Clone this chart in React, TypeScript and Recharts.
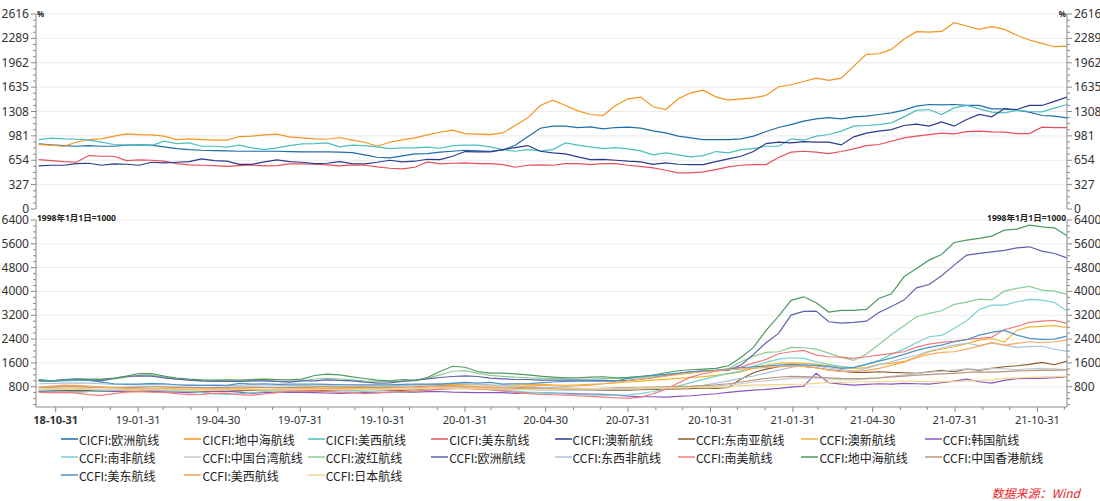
import React from "react";
import { LineChart, Line, XAxis, YAxis, ReferenceLine } from "recharts";

const DAY = 86400000;
const START = Date.UTC(2018, 9, 12);
const dates: number[] = [];
for (let i = 0; i < 83; i++) dates.push(START + i * 14 * DAY);
const X_DOMAIN = [Date.UTC(2018, 9, 9), Date.UTC(2021, 11, 3)];

const majorDates = [
  Date.UTC(2018, 9, 31), Date.UTC(2019, 0, 31), Date.UTC(2019, 3, 30), Date.UTC(2019, 6, 31),
  Date.UTC(2019, 9, 31), Date.UTC(2020, 0, 31), Date.UTC(2020, 3, 30), Date.UTC(2020, 6, 31),
  Date.UTC(2020, 9, 31), Date.UTC(2021, 0, 31), Date.UTC(2021, 3, 30), Date.UTC(2021, 6, 31),
  Date.UTC(2021, 9, 31),
];
const minorDates: number[] = [];
for (let y = 2018; y <= 2021; y++) {
  for (let m = 0; m < 12; m++) {
    const end = Date.UTC(y, m + 1, 0);
    if (end > X_DOMAIN[0] && end < X_DOMAIN[1] && !majorDates.includes(end)) minorDates.push(end);
  }
}
const xTicks = [...majorDates, ...minorDates].sort((a, b) => a - b);

// ---- top chart (CICFI, %) ----
const cicfiEurope = [874, 860, 851, 842, 851, 842, 842, 856, 860, 856, 833, 811, 797, 788, 784, 780, 775, 775, 775, 775, 771, 766, 766, 766, 762, 757, 726, 694, 685, 712, 739, 744, 762, 775, 788, 780, 775, 788, 856, 968, 1084, 1111, 1111, 1093, 1102, 1075, 1093, 1098, 1084, 1048, 1021, 977, 954, 932, 932, 932, 941, 977, 1039, 1093, 1133, 1178, 1210, 1227, 1210, 1236, 1245, 1268, 1290, 1326, 1380, 1402, 1398, 1402, 1389, 1389, 1344, 1344, 1326, 1299, 1254, 1245, 1223];
const cicfiMed = [865, 856, 842, 896, 932, 941, 977, 1008, 999, 995, 977, 932, 941, 932, 923, 923, 972, 977, 995, 1004, 968, 954, 941, 936, 959, 923, 896, 842, 896, 927, 954, 995, 1030, 1057, 1012, 1004, 999, 1021, 1120, 1223, 1389, 1460, 1389, 1317, 1268, 1254, 1389, 1478, 1501, 1371, 1335, 1478, 1559, 1595, 1505, 1460, 1478, 1492, 1523, 1640, 1667, 1711, 1756, 1725, 1756, 1917, 2074, 2083, 2141, 2276, 2379, 2374, 2383, 2500, 2455, 2410, 2446, 2410, 2330, 2267, 2222, 2177, 2186];
const cicfiUSWest = [930, 950, 941, 936, 923, 896, 865, 856, 860, 851, 909, 878, 887, 842, 842, 829, 856, 820, 797, 820, 851, 874, 878, 887, 833, 856, 851, 833, 811, 820, 820, 829, 815, 851, 856, 856, 833, 797, 775, 797, 780, 797, 887, 856, 833, 811, 824, 806, 780, 726, 752, 726, 699, 717, 771, 752, 797, 811, 842, 842, 941, 923, 977, 999, 1044, 1111, 1120, 1133, 1156, 1236, 1322, 1335, 1268, 1357, 1389, 1344, 1299, 1290, 1322, 1308, 1304, 1353, 1402];
const cicfiUSEast = [663, 650, 636, 627, 717, 708, 708, 650, 659, 654, 641, 609, 591, 587, 582, 573, 582, 591, 578, 582, 605, 605, 600, 591, 578, 591, 587, 564, 547, 538, 560, 632, 605, 614, 618, 609, 609, 596, 560, 587, 591, 587, 609, 609, 596, 609, 609, 587, 573, 551, 520, 484, 484, 497, 529, 564, 587, 596, 596, 690, 762, 775, 762, 743, 771, 806, 851, 865, 909, 954, 977, 999, 1017, 1008, 1039, 1044, 1035, 1030, 1012, 1012, 1098, 1093, 1093];
const cicfiANZ = [578, 587, 587, 609, 614, 587, 605, 600, 587, 627, 618, 627, 636, 672, 650, 641, 600, 600, 632, 659, 636, 627, 609, 614, 636, 609, 605, 627, 654, 632, 641, 667, 663, 708, 771, 766, 766, 797, 824, 851, 775, 752, 739, 699, 663, 667, 654, 641, 632, 600, 618, 600, 596, 596, 636, 672, 708, 771, 878, 896, 887, 905, 896, 896, 860, 968, 1017, 1044, 1066, 1120, 1138, 1111, 1169, 1111, 1200, 1268, 1236, 1344, 1335, 1389, 1389, 1443, 1501];

// ---- bottom chart (CCFI, 1998-01-01=1000) ----
const ccfiSEAsia = [660, 670, 680, 680, 670, 660, 650, 660, 670, 680, 680, 670, 660, 650, 650, 660, 670, 680, 680, 670, 660, 650, 660, 670, 680, 690, 700, 700, 690, 680, 700, 720, 740, 760, 750, 730, 720, 720, 740, 750, 760, 740, 720, 700, 690, 690, 690, 690, 700, 710, 720, 730, 740, 760, 744, 778, 1058, 1270, 1393, 1472, 1505, 1483, 1438, 1371, 1326, 1282, 1282, 1304, 1282, 1270, 1248, 1304, 1348, 1304, 1393, 1360, 1416, 1472, 1505, 1550, 1620, 1540, 1660];
const ccfiANZ = [760, 780, 800, 810, 800, 790, 780, 770, 760, 750, 760, 770, 770, 760, 760, 750, 750, 760, 770, 780, 780, 790, 800, 810, 800, 800, 810, 820, 830, 840, 860, 870, 880, 880, 870, 860, 850, 850, 860, 870, 880, 860, 850, 860, 880, 900, 930, 960, 990, 1020, 1050, 1080, 1110, 1140, 1180, 1230, 1300, 1420, 1530, 1590, 1600, 1590, 1560, 1500, 1440, 1420, 1440, 1550, 1584, 1650, 1800, 1975, 2060, 2143, 2250, 2366, 2420, 2300, 2700, 2813, 2830, 2850, 2790];
const ccfiKorea = [644, 644, 644, 630, 644, 650, 644, 660, 650, 644, 630, 620, 600, 611, 640, 650, 620, 580, 600, 610, 620, 611, 600, 590, 578, 590, 600, 611, 611, 620, 622, 633, 640, 620, 611, 600, 600, 600, 580, 600, 600, 590, 576, 560, 550, 543, 520, 487, 464, 464, 453, 476, 498, 532, 565, 610, 655, 688, 711, 744, 789, 822, 1250, 934, 890, 856, 878, 901, 890, 912, 901, 890, 934, 990, 1057, 968, 923, 1013, 1069, 1080, 1080, 1102, 1136];
const ccfiSAfrica = [680, 650, 640, 620, 640, 660, 680, 700, 700, 690, 680, 660, 640, 600, 560, 540, 560, 600, 640, 660, 680, 700, 720, 700, 680, 660, 640, 620, 600, 620, 650, 700, 760, 780, 760, 720, 700, 680, 650, 620, 600, 580, 560, 540, 530, 520, 520, 530, 570, 640, 720, 820, 940, 1050, 1150, 1248, 1326, 1483, 1617, 1729, 1774, 1751, 1639, 1550, 1483, 1438, 1550, 1684, 1886, 2065, 2277, 2479, 2523, 2758, 3016, 3396, 3542, 3542, 3654, 3732, 3710, 3631, 3340];
const ccfiTaiwan = [720, 730, 740, 740, 730, 720, 710, 720, 730, 730, 720, 710, 700, 700, 710, 720, 720, 710, 700, 710, 720, 720, 730, 730, 720, 710, 700, 700, 710, 720, 730, 740, 760, 770, 760, 740, 730, 720, 710, 700, 690, 690, 680, 680, 690, 700, 710, 720, 730, 740, 750, 760, 770, 790, 820, 860, 900, 960, 1000, 1040, 1080, 1100, 1090, 1060, 1040, 1030, 1060, 1100, 1150, 1200, 1240, 1280, 1320, 1360, 1400, 1380, 1420, 1400, 1380, 1400, 1420, 1400, 1380];
const ccfiRedSea = [980, 990, 1000, 1010, 1020, 1040, 1060, 1120, 1180, 1200, 1120, 1060, 1030, 1000, 990, 980, 990, 1000, 1010, 990, 980, 1000, 1060, 1080, 1060, 1030, 1000, 980, 970, 990, 1000, 1080, 1200, 1320, 1340, 1260, 1180, 1150, 1120, 1100, 1090, 1080, 1070, 1060, 1060, 1070, 1080, 1090, 1110, 1140, 1190, 1240, 1290, 1320, 1350, 1400, 1639, 1830, 1953, 1975, 2120, 2109, 2065, 1930, 1785, 1684, 1897, 2221, 2557, 2848, 3150, 3262, 3351, 3564, 3642, 3743, 3720, 4011, 4101, 4168, 4045, 4011, 3900];
const ccfiEurope = [1022, 1000, 1033, 1056, 1033, 1000, 1078, 1144, 1167, 1156, 1100, 1056, 1022, 1000, 978, 978, 978, 1000, 1000, 978, 955, 1000, 1000, 1033, 1011, 1000, 955, 922, 933, 978, 1022, 1067, 1111, 1144, 1167, 1144, 1089, 1067, 1044, 1044, 1025, 1025, 1025, 1020, 1015, 1013, 1002, 1013, 1058, 1102, 1170, 1237, 1304, 1326, 1337, 1349, 1527, 1886, 2277, 2590, 3206, 3329, 3340, 2982, 2937, 2960, 3004, 3295, 3497, 3709, 4123, 4235, 4526, 4884, 5220, 5276, 5332, 5377, 5466, 5500, 5354, 5276, 5130];
const ccfiAfrica = [900, 910, 920, 930, 920, 900, 880, 870, 860, 870, 880, 870, 860, 850, 840, 840, 850, 860, 860, 850, 840, 840, 850, 860, 860, 850, 840, 830, 830, 840, 850, 870, 900, 920, 900, 880, 860, 840, 820, 800, 780, 770, 760, 750, 740, 740, 740, 750, 760, 770, 780, 790, 800, 850, 920, 1000, 1080, 1160, 1260, 1360, 1450, 1520, 1500, 1430, 1380, 1330, 1420, 1540, 1640, 1760, 1850, 2000, 2100, 2200, 2260, 2180, 2260, 2200, 2120, 2150, 2160, 2060, 1990];
const ccfiSAmerica = [611, 600, 611, 589, 533, 511, 567, 622, 633, 622, 611, 567, 533, 544, 578, 589, 533, 511, 556, 600, 644, 644, 644, 633, 622, 611, 567, 589, 622, 633, 644, 678, 711, 733, 744, 722, 700, 656, 622, 578, 543, 532, 520, 498, 476, 453, 431, 408, 453, 565, 711, 923, 1124, 1237, 1326, 1393, 1460, 1594, 1718, 1908, 1975, 2020, 1863, 1807, 1796, 1751, 1807, 1863, 1919, 1975, 2132, 2232, 2288, 2322, 2389, 2423, 2467, 2714, 2825, 2960, 3004, 3026, 2926];
const ccfiMed = [1044, 1000, 1044, 1067, 1056, 1056, 1089, 1156, 1244, 1244, 1156, 1089, 1056, 1033, 1022, 1033, 1022, 1044, 1056, 1044, 1033, 1056, 1178, 1222, 1200, 1133, 1078, 1022, 1000, 1044, 1011, 1111, 1311, 1489, 1456, 1311, 1256, 1256, 1233, 1200, 1156, 1125, 1102, 1102, 1125, 1136, 1102, 1113, 1147, 1192, 1270, 1337, 1371, 1393, 1416, 1505, 1785, 2120, 2691, 3172, 3700, 3820, 3620, 3307, 3363, 3363, 3396, 3766, 3922, 4493, 4773, 5052, 5242, 5645, 5724, 5780, 5858, 6060, 6094, 6228, 6172, 6138, 5869];
const ccfiHK = [780, 790, 800, 800, 790, 780, 770, 780, 790, 800, 800, 790, 780, 770, 770, 780, 790, 790, 780, 770, 770, 780, 790, 800, 790, 780, 770, 770, 780, 790, 800, 820, 840, 840, 820, 800, 790, 780, 770, 760, 750, 740, 730, 730, 740, 750, 760, 770, 780, 790, 800, 810, 820, 840, 860, 900, 960, 1020, 1080, 1120, 1150, 1140, 1120, 1100, 1080, 1070, 1080, 1100, 1130, 1160, 1190, 1210, 1230, 1250, 1280, 1300, 1290, 1310, 1330, 1340, 1360, 1350, 1370];
const ccfiUSEast = [1000, 978, 1011, 1033, 1011, 955, 900, 889, 889, 911, 900, 867, 844, 844, 855, 844, 911, 889, 900, 878, 889, 889, 889, 878, 867, 867, 867, 867, 867, 878, 889, 889, 889, 911, 944, 922, 944, 889, 900, 900, 930, 960, 980, 990, 990, 990, 990, 1080, 1136, 1181, 1214, 1259, 1304, 1337, 1360, 1393, 1438, 1472, 1494, 1527, 1550, 1539, 1516, 1483, 1416, 1449, 1550, 1662, 1762, 1886, 2020, 2121, 2199, 2311, 2378, 2535, 2624, 2691, 2535, 2423, 2389, 2400, 2501];
const ccfiUSWest = [789, 822, 855, 844, 822, 789, 767, 744, 733, 711, 733, 733, 722, 733, 733, 722, 722, 711, 700, 711, 722, 730, 740, 750, 740, 730, 730, 740, 750, 760, 770, 790, 810, 820, 800, 780, 770, 760, 780, 820, 856, 834, 811, 834, 856, 901, 945, 1001, 1057, 1102, 1158, 1214, 1259, 1304, 1337, 1371, 1393, 1416, 1449, 1472, 1505, 1483, 1438, 1360, 1315, 1304, 1348, 1416, 1516, 1628, 1774, 1886, 1953, 1975, 2065, 2165, 2288, 2199, 2255, 2311, 2277, 2311, 2367];
const ccfiJapan = [700, 710, 720, 720, 710, 700, 700, 690, 690, 700, 700, 690, 680, 680, 690, 690, 700, 700, 690, 690, 700, 710, 710, 700, 700, 700, 710, 720, 720, 730, 740, 740, 750, 750, 740, 740, 730, 730, 720, 720, 720, 720, 730, 730, 740, 740, 750, 750, 760, 760, 770, 770, 780, 780, 790, 790, 840, 856, 862, 870, 878, 890, 915, 945, 950, 960, 968, 975, 985, 990, 985, 968, 975, 985, 990, 1010, 1040, 1080, 1095, 1110, 1136, 1140, 1150];

type S = { key: string; name: string; color: string; values: number[] };
const topSeries: S[] = [
  { key: "a1", name: "CICFI:欧洲航线", color: "#1f6ea6", values: cicfiEurope },
  { key: "a2", name: "CICFI:地中海航线", color: "#f7931e", values: cicfiMed },
  { key: "a3", name: "CICFI:美西航线", color: "#4cbfbf", values: cicfiUSWest },
  { key: "a4", name: "CICFI:美东航线", color: "#e8505b", values: cicfiUSEast },
  { key: "a5", name: "CICFI:澳新航线", color: "#2d3a8c", values: cicfiANZ },
];
const bottomSeries: S[] = [
  { key: "b1", name: "CCFI:东南亚航线", color: "#8b5a2b", values: ccfiSEAsia },
  { key: "b2", name: "CCFI:澳新航线", color: "#efb52c", values: ccfiANZ },
  { key: "b3", name: "CCFI:韩国航线", color: "#8957c0", values: ccfiKorea },
  { key: "b4", name: "CCFI:南非航线", color: "#78d0d0", values: ccfiSAfrica },
  { key: "b5", name: "CCFI:中国台湾航线", color: "#c3cad4", values: ccfiTaiwan },
  { key: "b6", name: "CCFI:波红航线", color: "#8ccb98", values: ccfiRedSea },
  { key: "b7", name: "CCFI:欧洲航线", color: "#5c64aa", values: ccfiEurope },
  { key: "b8", name: "CCFI:东西非航线", color: "#abc2da", values: ccfiAfrica },
  { key: "b9", name: "CCFI:南美航线", color: "#f27c7c", values: ccfiSAmerica },
  { key: "b10", name: "CCFI:地中海航线", color: "#4f9a60", values: ccfiMed },
  { key: "b11", name: "CCFI:中国香港航线", color: "#b8977e", values: ccfiHK },
  { key: "b12", name: "CCFI:美东航线", color: "#4d93c4", values: ccfiUSEast },
  { key: "b13", name: "CCFI:美西航线", color: "#f9a85c", values: ccfiUSWest },
  { key: "b14", name: "CCFI:日本航线", color: "#f2d68a", values: ccfiJapan },
];

const buildRows = (series: S[]) =>
  dates.map((t, i) => {
    const row: Record<string, number> = { t };
    series.forEach((s) => (row[s.key] = s.values[i]));
    return row;
  });
const topRows = buildRows(topSeries);
const bottomRows = buildRows(bottomSeries);

const topMajor = [0, 327, 654, 981, 1308, 1635, 1962, 2289, 2616];
const topTicks: number[] = [];
for (let k = 0; k <= 32; k++) topTicks.push(k * 81.75);
const botMajor = [800, 1600, 2400, 3200, 4000, 4800, 5600, 6400];
const botTicks: number[] = [];
for (let v = 200; v <= 6400; v += 200) botTicks.push(v);

const FONT = "'Noto Sans', 'Noto Sans CJK SC', sans-serif";
const AXIS = "#8a8a8a";

const makeYTick = (side: "left" | "right", step: number) => (props: any) => {
  const { x, y, payload } = props;
  const v = payload.value;
  const major = Math.abs(v / step - Math.round(v / step)) < 1e-6;
  const d = side === "left" ? -1 : 1;
  return (
    <g>
      <line x1={x} y1={y} x2={x + d * (major ? 5 : 3)} y2={y} stroke={AXIS} />
      {major && (
        <text x={x + d * 7} y={y} dy={4} textAnchor={side === "left" ? "end" : "start"} fontSize={12} fill="#333" fontFamily={FONT}>
          {Math.round(v)}
        </text>
      )}
    </g>
  );
};

const fmtDate = (v: number) => {
  const d = new Date(v);
  const p = (n: number) => String(n).padStart(2, "0");
  return `${p(d.getUTCFullYear() % 100)}-${p(d.getUTCMonth() + 1)}-${p(d.getUTCDate())}`;
};

const XTick = (props: any) => {
  const { x, y, payload } = props;
  const v = payload.value;
  const major = majorDates.includes(v);
  const first = v === majorDates[0];
  return (
    <g>
      <line x1={x} y1={y} x2={x} y2={y + (major ? 5 : 3)} stroke={AXIS} />
      {major && (
        <text x={x} y={y + 17} textAnchor="middle" fontSize={11} fontWeight={first ? 700 : 400} fill="#333" fontFamily={FONT}>
          {fmtDate(v)}
        </text>
      )}
    </g>
  );
};

const legendItems = [...topSeries, ...bottomSeries];

export default function App() {
  return (
    <div style={{ position: "absolute", left: 0, top: 0, width: 1100, height: 501, background: "#fff", fontFamily: FONT, overflow: "hidden" }}>
      <div style={{ position: "absolute", left: 0, top: 0 }}>
        <LineChart width={1100} height={222} data={topRows} margin={{ top: 14, right: 0, bottom: 13, left: 0 }}>
          <XAxis dataKey="t" type="number" domain={X_DOMAIN} allowDataOverflow hide />
          <YAxis yAxisId="l" orientation="left" width={36} domain={[0, 2616]} ticks={topTicks} interval={0} allowDataOverflow
            axisLine={{ stroke: AXIS }} tickLine={false} tickSize={0} tickMargin={0} tick={makeYTick("left", 327)} />
          <YAxis yAxisId="r" orientation="right" width={33} domain={[0, 2616]} ticks={topTicks} interval={0} allowDataOverflow
            axisLine={{ stroke: AXIS }} tickLine={false} tickSize={0} tickMargin={0} tick={makeYTick("right", 327)} />
          {topMajor.slice(1).map((v) => (
            <ReferenceLine key={v} yAxisId="l" y={v} stroke="#ececec" strokeWidth={1} />
          ))}
          {topSeries.map((s) => (
            <Line key={s.key} yAxisId="l" dataKey={s.key} name={s.name} stroke={s.color} strokeWidth={1.2} dot={false} isAnimationActive={false} type="linear" />
          ))}
        </LineChart>
      </div>
      <div style={{ position: "absolute", left: 0, top: 210 }}>
        <LineChart width={1100} height={217} data={bottomRows} margin={{ top: 10, right: 0, bottom: 0, left: 0 }}>
          <XAxis dataKey="t" type="number" domain={X_DOMAIN} allowDataOverflow ticks={xTicks} interval={0} height={20}
            axisLine={{ stroke: AXIS }} tickLine={false} tickSize={0} tickMargin={0} tick={XTick} />
          <YAxis yAxisId="l" orientation="left" width={36} domain={[120, 6400]} ticks={botTicks} interval={0} allowDataOverflow
            axisLine={{ stroke: AXIS }} tickLine={false} tickSize={0} tickMargin={0} tick={makeYTick("left", 800)} />
          <YAxis yAxisId="r" orientation="right" width={33} domain={[120, 6400]} ticks={botTicks} interval={0} allowDataOverflow
            axisLine={{ stroke: AXIS }} tickLine={false} tickSize={0} tickMargin={0} tick={makeYTick("right", 800)} />
          {botMajor.map((v) => (
            <ReferenceLine key={v} yAxisId="l" y={v} stroke="#ececec" strokeWidth={1} />
          ))}
          {bottomSeries.map((s) => (
            <Line key={s.key} yAxisId="l" dataKey={s.key} name={s.name} stroke={s.color} strokeWidth={1.2} dot={false} isAnimationActive={false} type="linear" />
          ))}
        </LineChart>
      </div>
      <div style={{ position: "absolute", left: 37, top: 8, fontSize: 8, fontWeight: 700, color: "#222" }}>%</div>
      <div style={{ position: "absolute", right: 1100 - 1066, top: 8, fontSize: 8, fontWeight: 700, color: "#222" }}>%</div>
      <div style={{ position: "absolute", left: 37, top: 211, fontSize: 8.5, fontWeight: 700, color: "#222", whiteSpace: "nowrap" }}>1998年1月1日=1000</div>
      <div style={{ position: "absolute", right: 1100 - 1066, top: 211, fontSize: 8.5, fontWeight: 700, color: "#222", whiteSpace: "nowrap" }}>1998年1月1日=1000</div>
      {legendItems.map((s, i) => {
        const col = i % 8;
        const row = Math.floor(i / 8);
        return (
          <div key={s.key} style={{ position: "absolute", left: 61 + col * 123.4, top: 430 + row * 18, height: 18, display: "flex", alignItems: "center", whiteSpace: "nowrap" }}>
            <svg width={17} height={4} style={{ marginRight: 1 }}>
              <line x1={0} y1={2} x2={17} y2={2} stroke={s.color} strokeWidth={1.5} />
            </svg>
            <span style={{ fontSize: 12, color: "#222", fontFamily: "'Noto Sans CJK SC', sans-serif" }}>{s.name}</span>
          </div>
        );
      })}
      <div style={{ position: "absolute", right: 20, top: 484, fontSize: 12, fontStyle: "italic", color: "#e8262b", fontFamily: "'Noto Sans CJK SC', sans-serif" }}>
        数据来源：Wind
      </div>
    </div>
  );
}
